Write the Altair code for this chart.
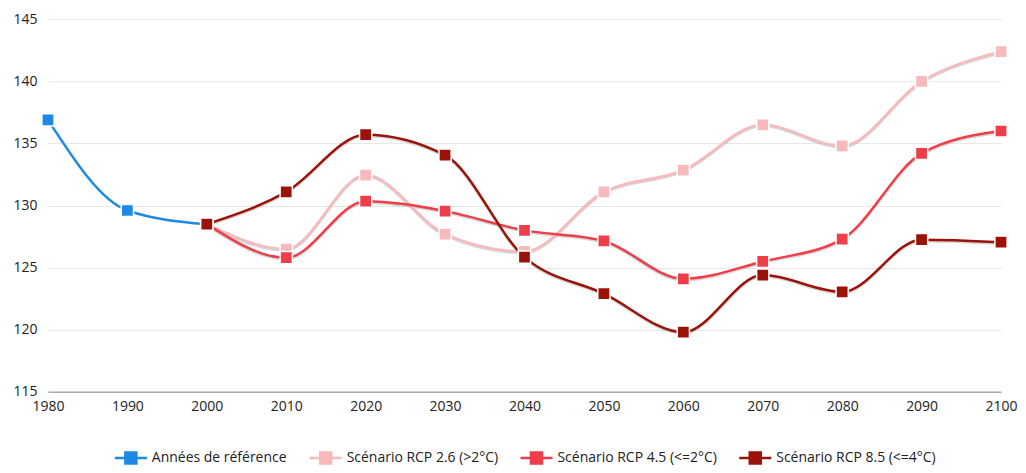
import altair as alt
import pandas as pd

years_ref = [1980, 1990, 2000]
ref_values = [136.9, 129.6, 128.5]

years_scen = [2000, 2010, 2020, 2030, 2040, 2050, 2060, 2070, 2080, 2090, 2100]
rcp26 = [128.5, 126.5, 132.45, 127.7, 126.3, 131.1, 132.85, 136.5, 134.8, 140.0, 142.4]
rcp45 = [128.5, 125.8, 130.35, 129.55, 128.0, 127.15, 124.1, 125.5, 127.3, 134.2, 136.0]
rcp85 = [128.5, 131.1, 135.7, 134.05, 125.85, 122.9, 119.8, 124.4, 123.05, 127.25, 127.05]

series_names = ["Années de référence", "Scénario RCP 2.6 (>2°C)",
                "Scénario RCP 4.5 (<=2°C)", "Scénario RCP 8.5 (<=4°C)"]
series_colors = ["#1e88e5", "#f8b9bc", "#ef3e4a", "#9b1208"]
x_ticks = list(range(1980, 2101, 10))
y_ticks = [115, 120, 125, 130, 135, 140, 145]

rows = []
for y, v in zip(years_ref, ref_values):
    rows.append({"annee": y, "valeur": v, "serie": series_names[0], "ordre": 0})
for i, vals in enumerate([rcp26, rcp45, rcp85], start=1):
    for y, v in zip(years_scen, vals):
        rows.append({"annee": y, "valeur": v, "serie": series_names[i], "ordre": i})
df = pd.DataFrame(rows)

font = "Open Sans"
xscale = alt.Scale(domain=[1980, 2100], nice=False)
yscale = alt.Scale(domain=[115, 145], nice=False, zero=False)

x = alt.X("annee:Q", scale=xscale,
          axis=alt.Axis(values=x_ticks, format="d", title=None, grid=False,
                        ticks=False, domainColor="#aaaaaa", domainWidth=1.5,
                        labelFontSize=14, labelColor="#222222", labelPadding=8,
                        labelFlush=False, labelFont=font))
y = alt.Y("valeur:Q", scale=yscale,
          axis=alt.Axis(values=y_ticks, title=None, domain=False, ticks=False,
                        gridColor="#e6e6e6", labelFontSize=14, labelColor="#222222",
                        labelPadding=11, labelFont=font))
color = alt.Color("serie:N",
                  scale=alt.Scale(domain=series_names, range=series_colors),
                  legend=alt.Legend(orient="none", legendX=76, legendY=432,
                                    direction="horizontal", title=None, padding=0,
                                    symbolType="M-3.2,0H3.2M-1.1,-1.1H1.1V1.1H-1.1Z",
                                    symbolSize=100, symbolStrokeWidth=2.5,
                                    labelFontSize=14, labelFont=font, labelColor="#222222",
                                    labelOffset=14, columnPadding=17))
color_nolegend = alt.Color("serie:N",
                           scale=alt.Scale(domain=series_names, range=series_colors),
                           legend=None)

shadow = alt.Chart(df[df["ordre"] > 0]).mark_line(
    interpolate="monotone", strokeWidth=2.5, color="#777777", opacity=0.3, yOffset=1.5
).encode(x=x, y=y, detail="serie:N", order="annee:Q")

lines = alt.Chart(df).mark_line(interpolate="monotone", strokeWidth=2.5).encode(
    x=x, y=y, color=color, detail="serie:N", order="annee:Q"
)
points = alt.Chart(df).mark_point(shape="square", filled=True, size=150, opacity=1,
                                  stroke="white", strokeWidth=1.5).encode(
    x=x, y=y, color=color_nolegend
)

chart = alt.layer(shadow, lines, points).properties(
    width=954, height=373, padding={"left": 4, "top": 4, "right": 0, "bottom": 0}
).configure(font=font).configure_view(stroke="transparent", strokeOpacity=0)

chart.save("out.html", embed_options={"renderer": "svg", "actions": False})
